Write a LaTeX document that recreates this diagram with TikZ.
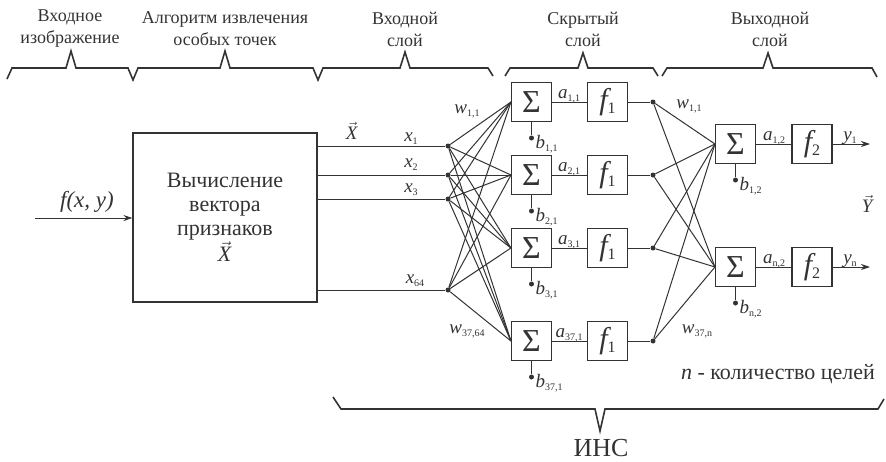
\documentclass[tikz,border=0pt]{standalone}
\usepackage{fontspec}
\setmainfont{Liberation Serif}
\newfontfamily\tms{Liberation Serif}
\usetikzlibrary{arrows.meta}
\definecolor{ink}{HTML}{333333}
\newcommand{\vsub}[2]{\textit{#1}{\fontsize{10}{10}\selectfont\raisebox{-3pt}{#2}}}
\newcommand{\vecX}[1]{$\vec{\mbox{\textit{#1}}}$}
\tikzset{
  sbox/.style={draw=ink, line width=1.1pt, minimum width=40pt, minimum height=39pt, inner sep=0pt, text=ink, font=\tms\fontsize{32}{34}\selectfont},
  fbox/.style={sbox, font=\tms\fontsize{30}{32}\selectfont\itshape},
  dot/.style={circle, fill=ink, inner sep=0pt, minimum size=5pt},
  lbl/.style={text=ink, inner sep=0pt, font=\tms\fontsize{19}{22}\selectfont},
  toplbl/.style={text=ink, align=center, inner sep=0pt, font=\tms\fontsize{18}{22}\selectfont},
  wire/.style={draw=ink, line width=1pt},
  brace/.style={draw=ink, line width=1.6pt, line join=miter},
}
\begin{document}
\begin{tikzpicture}[x=1pt, y=-1pt]
\useasboundingbox (0,0) rectangle (886,461);

% top labels
\node[toplbl] (t1) at (70,29) {Входное\\изображение};
\node[toplbl] (t2) at (225,29) {Алгоритм извлечения\\особых точек};
\node[toplbl] (t3) at (405,29) {Входной\\слой};
\node[toplbl] (t4) at (583,29) {Скрытый\\слой};
\node[toplbl] (t5) at (770,29) {Выходной\\слой};

% top braces
\draw[brace] (7,79) -- (12,68) -- (66,68) -- (71,51) -- (76,68) -- (128,68) -- (133,80)
  -- (138,68) -- (220,68) -- (225,51) -- (230,68) -- (313,68) -- (318,80)
  -- (323,68) -- (400,68) -- (405,52) -- (410,68) -- (488,68) -- (493,76);
\draw[brace] (505,76) -- (510,68) -- (578,68) -- (583,53) -- (588,68) -- (653,68) -- (658,76);
\draw[brace] (662,76) -- (667,68) -- (763,68) -- (768,53) -- (773,68) -- (872,68) -- (877,77);

% feature box
\node[draw=ink, line width=1.1pt, minimum width=184pt, minimum height=169pt, inner sep=0pt,
      text=ink, align=center, font=\tms\fontsize{22}{24}\selectfont] (box) at (225,217.5)
      {Вычисление\\вектора\\признаков\\[0pt]\vecX{X}};
\coordinate (in) at (35,218);
\draw[wire, -{Stealth[length=9pt,width=6pt]}] (in) -- (box.west |- in);
\node[lbl, font=\tms\fontsize{23}{26}\selectfont\itshape] (fxy) at (87,202) {f(x, y)};

% input dots
\node[dot] (i1) at (448,146) {};
\node[dot] (i2) at (448,175) {};
\node[dot] (i3) at (448,199) {};
\node[dot] (i4) at (448,290) {};
\foreach \i in {i1,i2,i3,i4} \draw[wire] (box.east |- \i) -- (\i);
\node[lbl] (vX) at (352,131) {\vecX{X}};
\node[lbl] (lx1) at (411,139) {\vsub{x}{1}};
\node[lbl] (lx2) at (411,165) {\vsub{x}{2}};
\node[lbl] (lx3) at (411,190) {\vsub{x}{3}};
\node[lbl] (lx4) at (415,281) {\vsub{x}{64}};

% hidden layer
\foreach \k/\y/\nm in {1/102/{1,1}, 2/175/{2,1}, 3/248/{3,1}, 4/341/{37,1}} {
  \node[sbox] (s\k) at (531.5,\y) {Σ};
  \node[fbox] (f\k) at (607.5,\y) {f{\fontsize{16}{16}\selectfont\upshape\raisebox{-4pt}{1}}};
  \node[dot] (h\k) at (653,\y) {};
  \node[dot] (b\k) at (531.5,\y+36) {};
  \draw[wire] (s\k) -- (f\k);
  \draw[wire] (f\k) -- (h\k);
  \draw[wire] (s\k) -- (b\k);
  \node[lbl, anchor=south] (a\k) at (569,\y+1) {\vsub{a}{\nm}};
  \node[lbl, anchor=west] (lb\k) at (535.5,\y+42) {\vsub{b}{\nm}};
}
\foreach \i in {i1,i2,i3,i4} \foreach \k in {1,2,3,4} \draw[wire] (\i) -- (s\k.west);
\node[lbl] (w1) at (467,111) {\vsub{w}{1,1}};
\node[lbl] (w2) at (467,331) {\vsub{w}{37,64}};

% output layer
\foreach \k/\y/\nm/\yn in {1/144/{1,2}/1, 2/267/{n,2}/n} {
  \node[sbox] (o\k) at (735.5,\y) {Σ};
  \node[fbox] (g\k) at (812,\y) {f{\fontsize{16}{16}\selectfont\upshape\raisebox{-4pt}{2}}};
  \coordinate (e\k) at (870,\y);
  \node[dot] (ob\k) at (735.5,\y+36) {};
  \draw[wire] (o\k) -- (g\k);
  \draw[wire, -{Stealth[length=9pt,width=6pt]}] (g\k) -- (e\k);
  \draw[wire] (o\k) -- (ob\k);
  \node[lbl, anchor=south] (oa\k) at (774,\y+1) {\vsub{a}{\nm}};
  \node[lbl, anchor=south] (oy\k) at (850,\y+1) {\vsub{y}{\yn}};
  \node[lbl, anchor=west] (olb\k) at (739.5,\y+42) {\vsub{b}{\nm}};
}
\foreach \k in {1,2,3,4} \foreach \j in {1,2} \draw[wire] (h\k) -- (o\j.west);
\node[lbl] (w3) at (689,106) {\vsub{w}{1,1}};
\node[lbl] (w4) at (697,331) {\vsub{w}{37,n}};
\node[lbl] (vY) at (868,204) {\vecX{Y}};

\node[lbl, font=\tms\fontsize{22}{24}\selectfont] (note) at (778,374) {\textit{n} - количество целей};

% bottom brace
\draw[brace] (333,397) -- (341,409) -- (595,409) -- (600,431) -- (605,409) -- (878,409) -- (884,399);
\node[lbl, font=\tms\fontsize{26}{28}\selectfont] (ins) at (601,448) {ИНС};
\end{tikzpicture}
\end{document}
